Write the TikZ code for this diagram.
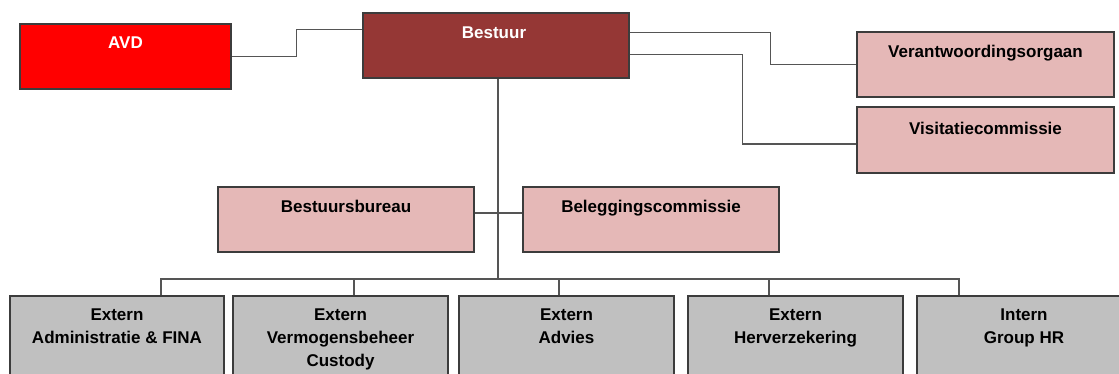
\documentclass[tikz,border=0pt]{standalone}
\usepackage{fontspec}
\setmainfont{Liberation Sans}
\usetikzlibrary{calc}
\definecolor{avdred}{RGB}{255,0,0}
\definecolor{bestred}{RGB}{149,55,53}
\definecolor{pinkbox}{RGB}{229,184,183}
\definecolor{greybox}{RGB}{192,192,192}
\definecolor{edge}{RGB}{60,60,60}
\definecolor{wire}{RGB}{85,85,85}
\tikzset{
  orgbox/.style={draw=edge, line width=1.2pt, rectangle, inner sep=0pt},
  lbl/.style={font=\bfseries\fontsize{17}{23}\selectfont, align=center, inner sep=0pt, anchor=north},
  wirel/.style={draw=wire, line width=1.1pt}
}
\begin{document}
\begin{tikzpicture}[x=1pt,y=-1pt]
\useasboundingbox (0,0) rectangle (1119,374);
\clip (0,0) rectangle (1119,374);
% boxes
\node[orgbox, fill=avdred, minimum width=211pt, minimum height=65pt] (avd) at (125.5,56.5) {};
\node[orgbox, fill=bestred, minimum width=266pt, minimum height=65pt] (bestuur) at (496,45.5) {};
\node[orgbox, fill=pinkbox, minimum width=257pt, minimum height=65pt] (verantw) at (985.5,64.5) {};
\node[orgbox, fill=pinkbox, minimum width=257pt, minimum height=66pt] (visit) at (985.5,140) {};
\node[orgbox, fill=pinkbox, minimum width=256pt, minimum height=65pt] (bureau) at (346,219.5) {};
\node[orgbox, fill=pinkbox, minimum width=256pt, minimum height=65pt] (beleg) at (651,219.5) {};
\node[orgbox, fill=greybox, minimum width=214pt, minimum height=100pt] (b1) at (117,346) {};
\node[orgbox, fill=greybox, minimum width=215pt, minimum height=100pt] (b2) at (340.5,346) {};
\node[orgbox, fill=greybox, minimum width=215pt, minimum height=100pt] (b3) at (566.5,346) {};
\node[orgbox, fill=greybox, minimum width=215pt, minimum height=100pt] (b4) at (795.5,346) {};
\node[orgbox, fill=greybox, minimum width=210pt, minimum height=100pt] (b5) at (1022,346) {};
% labels
\node[lbl, text=white] (tavd) at ($(avd.north)+(0,13.5)$) {AVD};
\node[lbl, text=white] (tbest) at ($(bestuur.north)+(-2,14.5)$) {Bestuur};
\node[lbl] (tver) at ($(verantw.north)+(0,14)$) {Verantwoordingsorgaan};
\node[lbl] (tvis) at ($(visit.north)+(0,15.5)$) {Visitatiecommissie};
\node[lbl] (tbur) at ($(bureau.north)+(0,14)$) {Bestuursbureau};
\node[lbl] (tbel) at ($(beleg.north)+(0,14)$) {Beleggingscommissie};
\node[lbl] (tb1) at ($(b1.north)+(0,13.5)$) {Extern\\Administratie \& FINA};
\node[lbl] (tb2) at ($(b2.north)+(0,13.5)$) {Extern\\Vermogensbeheer\\Custody};
\node[lbl] (tb3) at ($(b3.north)+(0,13.5)$) {Extern\\Advies};
\node[lbl] (tb4) at ($(b4.north)+(0,13.5)$) {Extern\\Herverzekering};
\node[lbl] (tb5) at ($(b5.north)+(2,13.5)$) {Intern\\Group HR};
% connectors
\coordinate (bus) at (498,279);
\draw[wirel] (avd.east) -- ++(65,0) |- ($(bestuur.north west)+(0,17)$);
\draw[wirel] ($(bestuur.north east)+(0,20)$) -| ($(verantw.west)+(-86,0)$) -- (verantw.west);
\draw[wirel] ($(bestuur.north east)+(0,42)$) -| ($(visit.west)+(-114,4)$) -- ($(visit.west)+(0,4)$);
\draw[wirel] ($(bestuur.south)+(2,0)$) -- (bus);
\draw[wirel] ($(bureau.east)+(0,-6.5)$) -- ($(beleg.west)+(0,-6.5)$);
\draw[wirel] (b1.north -| 161,0) |- (bus);
\draw[wirel] (b5.north -| 959,0) |- (bus);
\draw[wirel] (b2.north -| 354,0) -- (354,279);
\draw[wirel] (b3.north -| 559,0) -- (559,279);
\draw[wirel] (b4.north -| 769,0) -- (769,279);
\end{tikzpicture}
\end{document}
